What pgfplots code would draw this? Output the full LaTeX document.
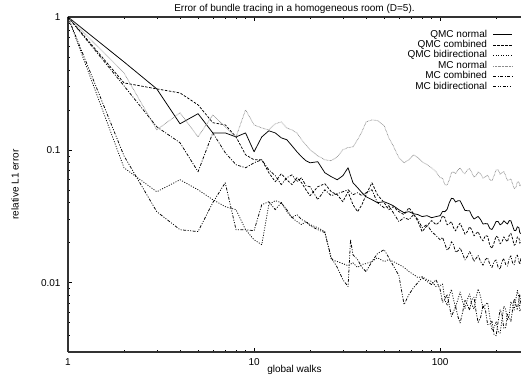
\documentclass[border=0pt]{standalone}
\usepackage{fontspec}
\setmainfont{Liberation Sans}
\usepackage{pgfplots}
\pgfplotsset{compat=1.18}
\definecolor{axisgray}{RGB}{50,50,50}
\definecolor{mcgray}{RGB}{140,140,140}
\begin{document}
\begin{tikzpicture}
\begin{axis}[
  scale only axis,
  width=453pt, height=335pt,
  xmode=log, ymode=log,
  xmin=1, xmax=272, ymin=0.003, ymax=1,
  axis x line=box, axis y line=left,
  x axis line style={-, draw=axisgray, line width=1.1pt},
  y axis line style={-, draw=axisgray, line width=1.1pt},
  tick align=inside,
  major tick length=4pt, minor tick length=2pt,
  every tick/.style={black, line width=0.5pt},
  xtick={1,10,100}, xticklabels={\mbox{1},\mbox{10},\mbox{100}},
  ytick={1,0.1,0.01}, yticklabels={\mbox{1},\mbox{0.1},\mbox{0.01}},
  minor xtick={2,3,4,5,6,7,8,9,20,30,40,50,60,70,80,90,200},
  minor ytick={0.004,0.005,0.006,0.007,0.008,0.009,0.02,0.03,0.04,0.05,0.06,0.07,0.08,0.09,0.2,0.3,0.4,0.5,0.6,0.7,0.8,0.9},
  tick label style={font=\fontsize{10}{12}\selectfont},
  xticklabel style={yshift=-3pt},
  yticklabel style={xshift=-4pt},
  title={Error of bundle tracing in a homogeneous room (D=5).},
  title style={at={(axis description cs:0.5,1.015)}, anchor=base, yshift=-6pt, font=\fontsize{10}{12}\selectfont},
  xlabel={global walks},
  xlabel style={at={(axis description cs:0.5,-0.06)}, anchor=base, font=\fontsize{10}{12}\selectfont},
  ylabel={relative L1 error},
  ylabel style={at={(axis description cs:-0.117,0.5)}, anchor=center, font=\fontsize{10}{12}\selectfont},
  legend plot pos=right,
  legend cell align=right,
  legend image code/.code={\draw[#1] (0pt,0pt) -- (19pt,0pt);},
  legend style={at={(axis description cs:1,1)}, anchor=north east, xshift=-5pt, yshift=-11pt,
    draw=none, fill=none, font=\fontsize{10}{12}\selectfont,
    nodes={inner sep=0pt, text height=7pt, text depth=2pt},
    row sep=1.4pt, column sep=6pt},
  every axis plot/.append style={line width=0.75pt, line join=round},
]
% QMC normal
\addplot[black, solid] coordinates {
(1,1)(2,0.459)(3,0.2875)(4,0.157)(5,0.187)(6,0.134)(7,0.134)(8,0.125)(9,0.134)(10,0.0966)
(11,0.125)(12,0.139)(13,0.134)(14,0.123)(15,0.119)(16,0.107)(17,0.0966)(18,0.0886)(19,0.0827)(20,0.0798)
(22,0.0813)(24,0.0672)(26,0.0627)(28,0.0595)(30,0.0638)(32,0.0732)(34,0.0565)(36,0.0518)(38,0.0475)(40,0.0443)
(43,0.0421)(46,0.04)(50,0.0406)(53,0.0393)(56,0.0379)(60,0.0354)(64,0.0336)(68,0.0342)(72,0.033)(76,0.0325)
(80,0.0314)(85,0.0319)(90,0.0308)(95,0.0314)(100,0.0319)(103,0.0343)(106,0.0342)(109,0.0356)(112,0.04)(115,0.0431)
(118,0.0428)(121,0.0404)(125,0.0414)(128,0.0413)(132,0.0379)(136,0.0349)(140,0.0348)(144,0.0347)(148,0.0319)(152,0.0301)
(156,0.0308)(160,0.0315)(165,0.0298)(170,0.0276)(175,0.0278)(180,0.0277)(185,0.0255)(190,0.0251)(195,0.0268)(200,0.0289)
(205,0.0288)(210,0.0272)(215,0.0278)(220,0.0292)(225,0.0283)(230,0.0276)(235,0.0293)(240,0.0292)(245,0.0268)(250,0.0247)
(255,0.0246)(260,0.0263)(265,0.0259)(268,0.0237)(272,0.0234)};
\addlegendentry{QMC normal}
% QMC combined
\addplot[black, dash pattern=on 2.5pt off 1.5pt] coordinates {
(1,1)(2,0.319)(3,0.2875)(4,0.268)(5,0.218)(6,0.16)(7,0.154)(8,0.125)(9,0.0917)(10,0.0841)
(11,0.0841)(12,0.0672)(13,0.0575)(14,0.066)(15,0.0595)(16,0.0546)(17,0.0616)(18,0.0565)(19,0.05)(20,0.0451)
(22,0.0527)(24,0.0555)(26,0.0483)(28,0.0459)(30,0.0406)(32,0.0483)(34,0.0386)(36,0.0342)(38,0.0386)(40,0.0459)
(43,0.0565)(46,0.0459)(50,0.04)(53,0.0354)(56,0.0373)(60,0.0342)(64,0.0325)(68,0.0366)(72,0.033)(76,0.0288)
(80,0.0242)(85,0.0268)(90,0.0293)(95,0.0273)(100,0.0288)(103,0.0319)(106,0.0308)(109,0.0272)(112,0.0278)(115,0.0288)
(118,0.0259)(121,0.0245)(125,0.0268)(128,0.028)(132,0.0255)(136,0.0231)(140,0.0242)(144,0.0263)(148,0.025)(152,0.0225)
(156,0.0234)(160,0.0242)(165,0.0218)(170,0.0206)(175,0.0226)(180,0.0223)(185,0.019)(190,0.0181)(195,0.02)(200,0.0224)
(205,0.0218)(210,0.0196)(215,0.0203)(220,0.0221)(225,0.021)(230,0.0203)(235,0.0226)(240,0.0235)(245,0.0214)(250,0.0191)
(255,0.0196)(260,0.0221)(265,0.0218)(268,0.0198)(272,0.0207)};
\addlegendentry{QMC combined}
% QMC bidirectional
\addplot[black, dash pattern=on 1pt off 1.5pt] coordinates {
(1,1)(2,0.0732)(3,0.0483)(4,0.0595)(5,0.05)(6,0.0421)(7,0.0373)(8,0.0354)(9,0.025)(10,0.021)
(11,0.0193)(12,0.0386)(13,0.0414)(14,0.04)(15,0.0342)(16,0.0308)(17,0.0288)(18,0.0273)(19,0.0288)(20,0.0273)
(22,0.0259)(24,0.0242)(26,0.0149)(28,0.0144)(30,0.0139)(32,0.0134)(34,0.0141)(36,0.013)(38,0.0137)(40,0.0139)
(43,0.0144)(46,0.0154)(50,0.0144)(53,0.0149)(56,0.0144)(60,0.0137)(64,0.013)(68,0.0121)(72,0.0115)(76,0.0109)
(80,0.0111)(85,0.0105)(90,0.0102)(95,0.00933)(100,0.0095)(103,0.00975)(106,0.00745)(109,0.00672)(112,0.00798)(115,0.00888)
(118,0.00745)(121,0.00654)(125,0.00758)(128,0.0085)(132,0.0072)(136,0.00638)(140,0.00745)(144,0.00821)(148,0.00683)(152,0.00632)
(156,0.00771)(160,0.00895)(165,0.00785)(170,0.00639)(175,0.00683)(180,0.00707)(185,0.00546)(190,0.00437)(195,0.00459)(200,0.0051)
(205,0.00428)(210,0.00416)(215,0.00527)(220,0.00664)(225,0.00627)(230,0.00519)(235,0.00565)(240,0.00718)(245,0.00683)(250,0.00621)
(255,0.00745)(260,0.00872)(265,0.00771)(268,0.00608)(272,0.00627)};
\addlegendentry{QMC bidirectional}
% MC normal
\addplot[mcgray, dash pattern=on 0.6pt off 0.8pt] coordinates {
(1,1)(2,0.379)(3,0.1414)(4,0.19)(5,0.125)(6,0.183)(7,0.149)(8,0.125)(9,0.2)(10,0.154)
(11,0.146)(12,0.141)(13,0.157)(14,0.162)(15,0.146)(16,0.141)(17,0.134)(18,0.119)(19,0.109)(20,0.1)
(22,0.0901)(24,0.0841)(26,0.0827)(28,0.0886)(30,0.1)(32,0.104)(34,0.105)(36,0.119)(38,0.137)(40,0.162)
(43,0.168)(46,0.166)(50,0.152)(53,0.123)(56,0.107)(60,0.0871)(64,0.0798)(68,0.0841)(72,0.0917)(76,0.0871)
(80,0.0813)(85,0.0772)(90,0.0732)(95,0.0683)(100,0.0616)(103,0.061)(106,0.0546)(109,0.0542)(112,0.0595)(115,0.0671)
(118,0.0683)(121,0.066)(125,0.0707)(128,0.073)(132,0.0683)(136,0.066)(140,0.0707)(144,0.0724)(148,0.0672)(152,0.0622)
(156,0.0638)(160,0.0681)(165,0.066)(170,0.0611)(175,0.0627)(180,0.0642)(185,0.0595)(190,0.0586)(195,0.0638)(200,0.0706)
(205,0.0707)(210,0.0655)(215,0.0672)(220,0.0688)(225,0.0638)(230,0.0586)(235,0.0595)(240,0.0604)(245,0.0555)(250,0.051)
(255,0.0518)(260,0.0574)(265,0.0575)(268,0.0533)(272,0.0546)};
\addlegendentry{MC normal}
% MC combined
\addplot[black, dash pattern=on 3pt off 1.5pt on 1pt off 1.5pt] coordinates {
(1,1)(2,0.303)(3,0.149)(4,0.113)(5,0.0683)(6,0.134)(7,0.095)(8,0.0772)(9,0.0732)(10,0.0798)
(11,0.0841)(12,0.0707)(13,0.0638)(14,0.0546)(15,0.0616)(16,0.0648)(17,0.0575)(18,0.0616)(19,0.0536)(20,0.0527)
(22,0.0421)(24,0.05)(26,0.0451)(28,0.0467)(30,0.0483)(32,0.05)(34,0.0459)(36,0.0475)(38,0.0451)(40,0.0475)
(43,0.05)(46,0.04)(50,0.0366)(53,0.0379)(56,0.0336)(60,0.0288)(64,0.0308)(68,0.0298)(72,0.0325)(76,0.0298)
(80,0.0259)(85,0.0273)(90,0.0242)(95,0.0226)(100,0.021)(103,0.0219)(106,0.0196)(109,0.0175)(112,0.0183)(115,0.0203)
(118,0.0193)(121,0.0169)(125,0.0174)(128,0.0183)(132,0.0165)(136,0.0148)(140,0.0157)(144,0.0171)(148,0.016)(152,0.0144)
(156,0.0152)(160,0.016)(165,0.0144)(170,0.0135)(175,0.0149)(180,0.0154)(185,0.0137)(190,0.013)(195,0.0144)(200,0.0148)
(205,0.013)(210,0.0126)(215,0.0144)(220,0.0152)(225,0.0137)(230,0.0133)(235,0.0152)(240,0.0159)(245,0.0141)(250,0.0136)
(255,0.0154)(260,0.0161)(265,0.0144)(268,0.0137)(272,0.0154)};
\addlegendentry{MC combined}
% MC bidirectional
\addplot[black, dash pattern=on 3pt off 1.5pt on 1pt off 1.5pt on 1pt off 1.5pt] coordinates {
(1,1)(2,0.09)(3,0.0342)(4,0.025)(5,0.0242)(6,0.04)(7,0.0565)(8,0.025)(9,0.025)(10,0.0246)
(11,0.0386)(12,0.0406)(13,0.0354)(14,0.04)(15,0.0354)(16,0.0308)(17,0.0325)(18,0.0298)(19,0.0288)(20,0.0268)
(22,0.025)(24,0.0238)(26,0.0154)(28,0.013)(30,0.01053)(32,0.00933)(33,0.021)(34,0.0162)(36,0.0149)(38,0.013)(40,0.0121)
(43,0.0144)(46,0.0165)(50,0.0177)(53,0.0154)(56,0.0134)(60,0.0113)(64,0.00683)(68,0.00813)(72,0.00917)(76,0.01)
(80,0.0109)(85,0.0102)(90,0.00966)(95,0.0105)(100,0.00886)(103,0.0071)(106,0.00745)(109,0.00815)(112,0.00672)(115,0.00556)
(118,0.00605)(121,0.00662)(125,0.00546)(128,0.00497)(132,0.00595)(136,0.00735)(140,0.00683)(144,0.00621)(148,0.00745)(152,0.00776)
(156,0.00605)(160,0.00501)(165,0.00546)(170,0.00675)(175,0.00627)(180,0.00483)(185,0.00483)(190,0.00512)(195,0.00406)(200,0.00398)
(205,0.00509)(210,0.00623)(215,0.00575)(220,0.0045)(225,0.00459)(230,0.00578)(235,0.00546)(240,0.00511)(245,0.00627)(250,0.00753)
(255,0.00683)(260,0.00621)(265,0.00745)(268,0.00815)(272,0.00672)};
\addlegendentry{MC bidirectional}
\end{axis}
\pgfresetboundingbox
\path (current axis.south west) ++(-68pt,-30pt) rectangle ++(521pt,382pt);
\end{tikzpicture}
\end{document}
